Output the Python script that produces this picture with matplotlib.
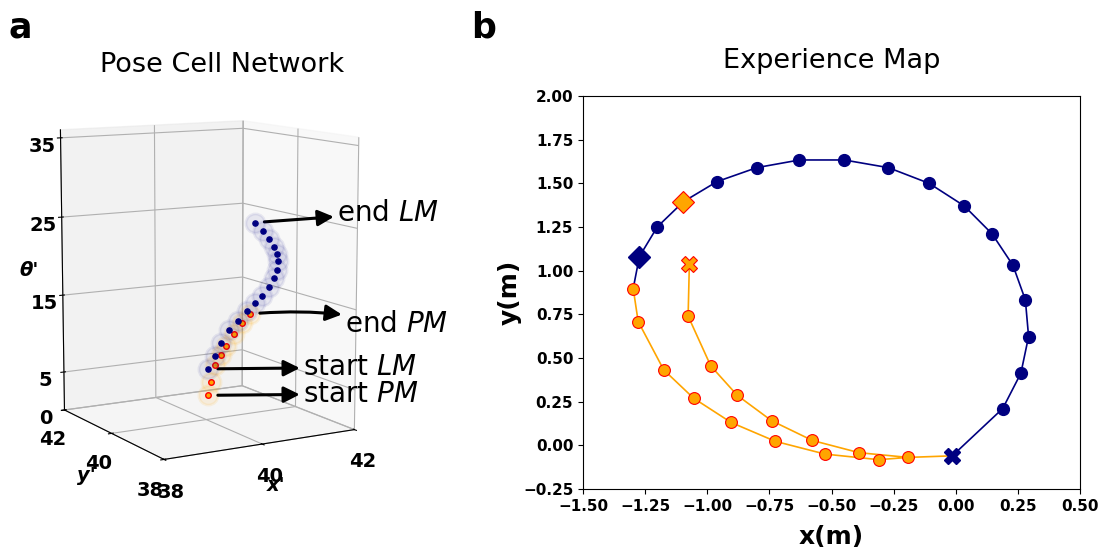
import matplotlib
matplotlib.use("Agg")
import matplotlib.pyplot as plt
import numpy as np
from mpl_toolkits.mplot3d import proj3d

# pose cell packet positions (x', y', theta'), from start to end
lm_px = [40.04, 40.18, 40.33, 40.50, 40.70, 40.90, 41.07, 41.23, 41.38, 41.49, 41.56, 41.58, 41.56, 41.49, 41.38, 41.23, 41.05]
lm_py = [40.0] * 17
lm_pth = [6.5, 8.1, 9.6, 11.1, 12.2, 13.3, 14.3, 15.1, 16.1, 17.2, 18.2, 19.3, 20.3, 21.2, 22.3, 23.3, 24.5]

pm_px = [40.04, 40.11, 40.20, 40.31, 40.44, 40.61, 40.77, 40.96]
pm_py = [40.0] * 8
pm_pth = [3.1, 4.7, 6.9, 8.1, 9.2, 10.5, 11.8, 12.9]

# experience map nodes (m)
lm_x = [-0.014, 0.189, 0.262, 0.293, 0.280, 0.230, 0.146, 0.034, -0.107, -0.271,
        -0.449, -0.629, -0.801, -0.961, -1.096, -1.201, -1.273]
lm_y = [-0.060, 0.211, 0.413, 0.623, 0.833, 1.031, 1.211, 1.371, 1.500, 1.590,
        1.634, 1.634, 1.590, 1.510, 1.395, 1.251, 1.081]
pm_x = [-1.298, -1.278, -1.175, -1.055, -0.904, -0.726, -0.526, -0.310, -0.192,
        -0.389, -0.577, -0.741, -0.879, -0.986, -1.077, -1.072]
pm_y = [0.898, 0.709, 0.432, 0.270, 0.131, 0.023, -0.050, -0.082, -0.069,
        -0.042, 0.028, 0.141, 0.286, 0.455, 0.740, 1.039]
pm_end = 14  # index in lm path where the PM run ends

xticks_em = np.arange(-1.5, 0.51, 0.25)
yticks_em = np.arange(-0.25, 2.01, 0.25)
zticks_pc = [0, 5, 15, 25, 35]
xyticks_pc = [38, 40, 42]

fig = plt.figure(figsize=(11.05, 5.52), dpi=100)

# ---- a: pose cell network ----
ax3 = fig.add_axes([-0.029, 0.049, 0.42, 0.87], projection='3d')
ax3.set_box_aspect((1, 1, 1.35), zoom=0.88)
ax3.view_init(elev=10, azim=-120)
ax3.set_proj_type('persp', focal_length=0.7)

ax3.scatter(lm_px, lm_py, lm_pth, s=190, color='navy', alpha=0.07,
            edgecolors=(0, 0, 0.5, 0.15), linewidths=2, depthshade=False)
ax3.scatter(pm_px, pm_py, pm_pth, s=190, color='orange', alpha=0.1,
            edgecolors=(1, 0.65, 0, 0.15), linewidths=2, depthshade=False)
ax3.scatter(lm_px, lm_py, lm_pth, s=14, color='navy', depthshade=False)
ax3.scatter(pm_px, pm_py, pm_pth, s=16, color='orange', edgecolors='red',
            linewidths=1, depthshade=False)

ax3.set_xlim(38, 42)
ax3.set_ylim(38, 42)
ax3.set_zlim(0, 36)
ax3.set_xticks(xyticks_pc)
ax3.set_yticks(xyticks_pc)
ax3.set_zticks(zticks_pc)
for lab in ax3.get_xticklabels() + ax3.get_yticklabels() + ax3.get_zticklabels():
    lab.set_fontsize(14)
    lab.set_fontweight('bold')
ax3.set_xlabel("x'", fontsize=14, fontweight='bold', style='italic', labelpad=0)
ax3.set_ylabel("y'", fontsize=14, fontweight='bold', style='italic', labelpad=2)
ax3.set_zlabel("θ'", fontsize=14, fontweight='bold', style='italic', labelpad=0)
ax3.set_title('Pose Cell Network', fontsize=19.5, pad=0, x=0.548, y=1.043)

fig.canvas.draw()
M = ax3.get_proj()


def tag(px, py, pth, label, dx, dy, rad=0.0):
    x2, y2, _ = proj3d.proj_transform(px, py, pth, M)
    ax3.annotate(label, xy=(x2, y2), xytext=(dx, dy), textcoords='offset points',
                 fontsize=20, ha='left', va='center',
                 arrowprops=dict(arrowstyle='<|-', color='k', lw=2.2,
                                 mutation_scale=24, shrinkA=0, shrinkB=7,
                                 connectionstyle='arc3,rad=%s' % rad))


tag(lm_px[-1], lm_py[-1], lm_pth[-1], 'end $LM$', 59, 7)
tag(pm_px[-1], pm_py[-1], pm_pth[-1], 'end $PM$', 68, -7, rad=0.08)
tag(lm_px[0], lm_py[0], lm_pth[0], 'start $LM$', 68, 1)
tag(pm_px[0], pm_py[0], pm_pth[0], 'start $PM$', 68, 1)

# ---- b: experience map ----
ax = fig.add_axes([0.5276, 0.1141, 0.4498, 0.7119])
ax.plot(lm_x + [pm_x[0]], lm_y + [pm_y[0]], color='navy', lw=1.2, zorder=1)
ax.plot(pm_x, pm_y, color='orange', lw=1.2, zorder=2)
ax.plot([pm_x[8], lm_x[0]], [pm_y[8], lm_y[0]], color='orange', lw=1.2, zorder=2)

ax.plot(lm_x[1:-1], lm_y[1:-1], 'o', color='navy', ms=8.5, zorder=3)
ax.plot(pm_x[:-1], pm_y[:-1], 'o', mfc='orange', mec='red', mew=0.8, ms=8.5, zorder=4)
ax.plot(lm_x[pm_end], lm_y[pm_end], 'D', mfc='orange', mec='red', mew=0.8, ms=11, zorder=5)
ax.plot(pm_x[-1], pm_y[-1], 'X', mfc='orange', mec='red', mew=0.8, ms=11, zorder=5)
ax.plot(lm_x[-1], lm_y[-1], 'D', color='navy', ms=11, zorder=5)
ax.plot(lm_x[0], lm_y[0], 'X', color='navy', ms=11, zorder=5)

ax.set_xlim(-1.5, 0.5)
ax.set_ylim(-0.25, 2.0)
ax.set_xticks(xticks_em)
ax.set_yticks(yticks_em)
ax.tick_params(labelsize=11)
for lab in ax.get_xticklabels() + ax.get_yticklabels():
    lab.set_fontweight('bold')
ax.set_xlabel('x(m)', fontsize=18, fontweight='bold', labelpad=8)
ax.set_ylabel('y(m)', fontsize=18, fontweight='bold', labelpad=1)
ax.set_title('Experience Map', fontsize=19.5, pad=20)

fig.text(0.008, 0.932, 'a', fontsize=25, fontweight='bold')
fig.text(0.426, 0.932, 'b', fontsize=25, fontweight='bold')

fig.savefig('out.png', dpi=100)
